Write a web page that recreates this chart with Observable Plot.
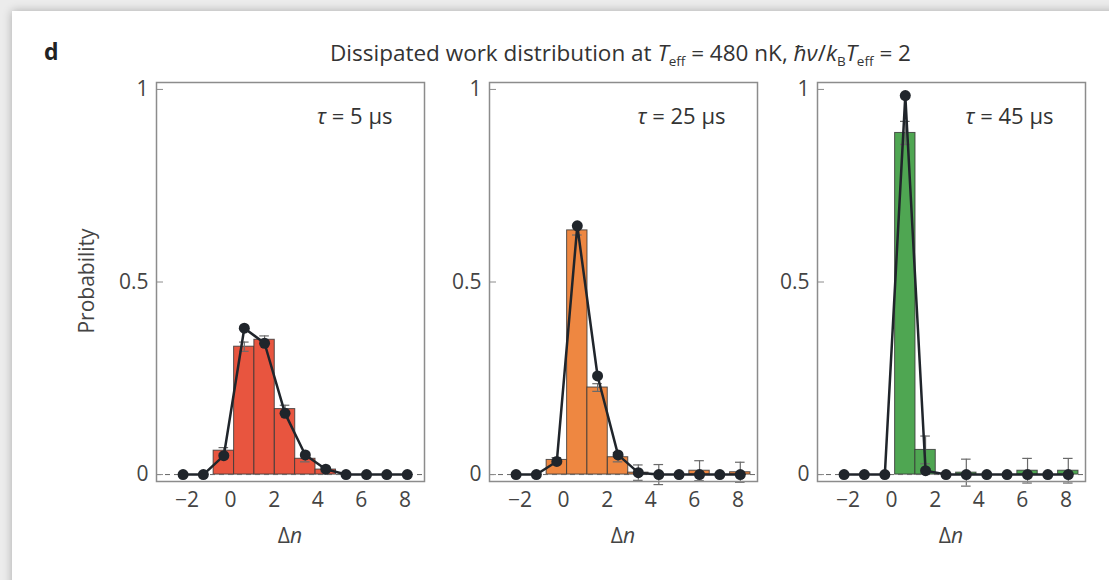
<!DOCTYPE html>
<html>
<head>
<meta charset="utf-8">
<script src="https://cdn.jsdelivr.net/npm/d3@7"></script>
<script src="https://cdn.jsdelivr.net/npm/@observablehq/plot@0.6"></script>
<style>
  html, body { margin: 0; padding: 0; }
  body { width: 1109px; height: 580px; background: #ececec; position: relative; overflow: hidden;
         font-family: "Open Sans", "Noto Sans", sans-serif; color: #333; }
  #card { position: absolute; left: 12px; top: 11px; width: 1120px; height: 600px; background: #fff;
          box-shadow: 0 0 9px rgba(0,0,0,0.28); }
  .abs { position: absolute; white-space: nowrap; }
  .plotbox { position: absolute; top: 72px; }
  #title { left: 156px; width: 929px; top: 37px; text-align: center; font-size: 22.5px; color: #333; }
  #title sub { font-size: 13.5px; vertical-align: -5px; line-height: 0; }
  #panel-letter { left: 44px; top: 35px; font-size: 23px; font-weight: bold; color: #222; }
  #ylabel { left: 86px; top: 281px; transform: translate(-50%, -50%) rotate(-90deg); font-size: 21px; color: #444; }
  .xlabel { top: 521px; font-size: 21px; color: #444; transform: translateX(-50%); }
</style>
</head>
<body>
<div id="card"></div>
<div class="abs" id="panel-letter">d</div>
<div class="abs" id="title">Dissipated work distribution at <i>T</i><sub>eff</sub> = 480 nK, <i>ħν</i>/<i>k</i><sub>B</sub><i>T</i><sub>eff</sub> = 2</div>
<div class="abs" id="ylabel">Probability</div>
<div id="plots"></div>
<script>
// ---- data ----
const dn = [-2.18, -1.25, -0.31, 0.63, 1.56, 2.50, 3.43, 4.37, 5.30, 6.24, 7.17, 8.11];
const binWidth = 0.935;
const xTicks = [-2, 0, 2, 4, 6, 8];
const yTicks = [0, 0.5, 1];
const tauLabels = ["τ = 5 µs", "τ = 25 µs", "τ = 45 µs"];
const barColors = ["#e8553f", "#ee8741", "#4fa652"];

const measured5 = [0, 0, 0.062, 0.332, 0.350, 0.170, 0.041, 0.013, 0, 0, 0, 0];
const theory5   = [0, 0, 0.049, 0.380, 0.341, 0.159, 0.051, 0.014, 0, 0, 0, 0];
const error5    = [0, 0, 0.008, 0.012, 0.010, 0.010, 0.008, 0.006, 0, 0, 0, 0];

const measured25 = [0, 0, 0.038, 0.634, 0.226, 0.045, 0.005, 0, 0, 0.010, 0, 0.006];
const theory25   = [0, 0, 0.034, 0.646, 0.256, 0.051, 0.005, 0, 0, 0, 0, 0];
const error25    = [0, 0, 0.006, 0.012, 0.010, 0.012, 0.020, 0.026, 0, 0.026, 0, 0.026];

const measured45 = [0, 0, 0, 0.887, 0.064, 0, 0.005, 0, 0, 0.010, 0, 0.010];
const theory45   = [0, 0, 0, 0.984, 0.010, 0, 0, 0, 0, 0, 0, 0];
const error45    = [0, 0, 0, 0.030, 0.036, 0, 0.035, 0, 0, 0.032, 0, 0.032];

const panels = [
  {tau: tauLabels[0], measured: measured5, theory: theory5, error: error5, color: barColors[0]},
  {tau: tauLabels[1], measured: measured25, theory: theory25, error: error25, color: barColors[1]},
  {tau: tauLabels[2], measured: measured45, theory: theory45, error: error45, color: barColors[2]}
];

// ---- layout ----
const frameLefts = [156, 489, 817];
const frameW = 268;
const mL = 60, mR = 4, mT = 10, mB = 70, frameH = 399;
const ink = "#20252b";
const fmt = d => d < 0 ? "\u2212" + Math.abs(d) : String(d);

const container = document.getElementById("plots");
panels.forEach((p, i) => {
  const rows = dn.map((x, k) => ({x, m: p.measured[k], t: p.theory[k], e: p.error[k]}));
  const errRows = rows.filter(d => d.e > 0);
  const chart = Plot.plot({
    width: mL + frameW + mR,
    height: mT + frameH + mB,
    marginLeft: mL, marginRight: mR, marginTop: mT, marginBottom: mB,
    style: {background: "transparent", fontFamily: "'Open Sans', 'Noto Sans', sans-serif", fontSize: "21px", color: "#444", overflow: "visible"},
    x: {domain: [-3.4, 8.9]},
    y: {domain: [-0.018, 1.018]},
    marks: [
      Plot.rect(rows.filter(d => d.m > 0), {x1: d => d.x - binWidth / 2, x2: d => d.x + binWidth / 2, y1: 0, y2: "m",
        fill: p.color, stroke: "#3a3a3a", strokeWidth: 1, strokeOpacity: 0.85}),
      Plot.ruleY([0], {stroke: "#666", strokeDasharray: "5,4", strokeWidth: 1}),
      Plot.ruleX(errRows, {x: "x", y1: d => d.m - d.e, y2: d => d.m + d.e, stroke: "#6a6a6a", strokeWidth: 1.2}),
      Plot.ruleY(errRows, {y: d => d.m + d.e, x1: d => d.x - 0.22, x2: d => d.x + 0.22, stroke: "#6a6a6a", strokeWidth: 1.2}),
      Plot.ruleY(errRows, {y: d => d.m - d.e, x1: d => d.x - 0.22, x2: d => d.x + 0.22, stroke: "#6a6a6a", strokeWidth: 1.2}),
      Plot.line(rows, {x: "x", y: "t", stroke: ink, strokeWidth: 2.5}),
      Plot.dot(rows, {x: "x", y: "t", r: 5.5, fill: ink, stroke: "none"}),
      Plot.frame({stroke: "#8c8c8c", strokeWidth: 1.5}),
      Plot.axisY({ticks: yTicks, tickFormat: fmt, tickSize: -7, tickPadding: 15, label: null, stroke: "#8c8c8c", fill: "#444"}),
      Plot.axisX({ticks: xTicks, tickFormat: fmt, tickSize: 0, tickPadding: 11, label: null, fill: "#444"}),
      Plot.text([p.tau], {frameAnchor: "top-right", textAnchor: "end", lineAnchor: "middle", dx: -32, dy: 34,
        fontSize: 22, fill: "#333"})
    ]
  });
  // italic tau
  d3.select(chart).selectAll("text").filter(function() { return this.textContent.startsWith("τ"); })
    .each(function() {
      const t = this.textContent;
      const s = d3.select(this);
      s.text(null);
      s.append("tspan").attr("font-style", "italic").text("τ");
      s.append("tspan").text(t.slice(1));
    });
  const box = document.createElement("div");
  box.className = "plotbox";
  box.style.left = (frameLefts[i] - mL) + "px";
  box.appendChild(chart);
  container.appendChild(box);

  const xl = document.createElement("div");
  xl.className = "abs xlabel";
  xl.style.left = (frameLefts[i] + frameW / 2) + "px";
  xl.innerHTML = "Δ<i>n</i>";
  document.body.appendChild(xl);
});
</script>
</body>
</html>
